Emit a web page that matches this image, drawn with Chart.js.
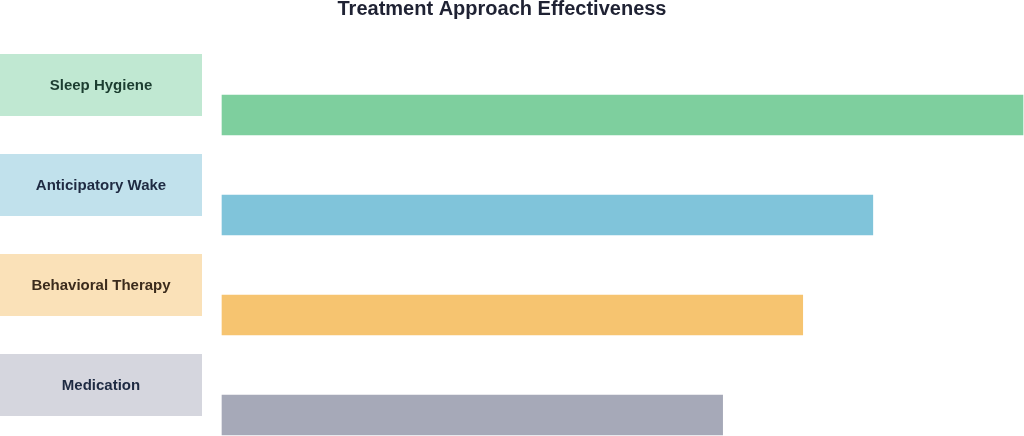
<!DOCTYPE html>
<html>
<head>
<meta charset="utf-8">
<script src="https://cdn.jsdelivr.net/npm/chart.js"></script>
<style>
  html, body { margin: 0; padding: 0; background: #fff; }
  #wrap { width: 1024px; height: 436px; position: relative; }
</style>
</head>
<body>
<div id="wrap"><canvas id="effectChart"></canvas></div>
<script>
// Chart data
const approaches = ['Sleep Hygiene', 'Anticipatory Wake', 'Behavioral Therapy', 'Medication'];
const effectiveness = [80, 65, 58, 50];
const barColors = ['#7ecf9e', '#80c4da', '#f6c470', '#a6a9b8'];
const boxColors = ['#c0e8d2', '#c1e1ec', '#fae1b8', '#d5d6de'];
const textColors = ['#1b3d30', '#1e2a42', '#3b2b1c', '#1e2a42'];
const chartTitle = 'Treatment Approach Effectiveness';

// draws the title and the coloured label boxes on the left
const labelBoxes = {
  id: 'labelBoxes',
  afterDraw(chart) {
    const ctx = chart.ctx;
    const yScale = chart.scales.y;
    ctx.save();
    ctx.textAlign = 'center';
    ctx.textBaseline = 'middle';

    ctx.font = 'bold 20px "Liberation Sans", Arial, sans-serif';
    ctx.fillStyle = '#1f2233';
    ctx.fillText(chartTitle, 502, 9);

    ctx.font = 'bold 15px "Liberation Sans", Arial, sans-serif';
    approaches.forEach((name, i) => {
      const cy = yScale.getPixelForValue(i) - 30;
      ctx.fillStyle = boxColors[i];
      ctx.fillRect(0, cy - 31, 202, 62);
      ctx.fillStyle = textColors[i];
      ctx.fillText(name, 101, cy + 1);
    });
    ctx.restore();
  }
};

const effectChartConfig = {
  type: 'bar',
  data: {
    labels: approaches,
    datasets: [{
      label: 'Effectiveness',
      data: effectiveness,
      backgroundColor: barColors,
      borderWidth: 0,
      barThickness: 40,
      clip: false
    }]
  },
  options: {
    indexAxis: 'y',
    responsive: true,
    maintainAspectRatio: false,
    animation: false,
    layout: {
      padding: { top: 115, bottom: 21, left: 222, right: 1 }
    },
    scales: {
      x: { display: false, min: 0, max: 80 },
      y: { display: false, offset: false }
    },
    plugins: {
      legend: { display: false },
      title: { display: false },
      tooltip: { enabled: false }
    }
  },
  plugins: [labelBoxes]
};

const effectChart = new Chart(document.getElementById('effectChart'), effectChartConfig);
</script>
</body>
</html>
